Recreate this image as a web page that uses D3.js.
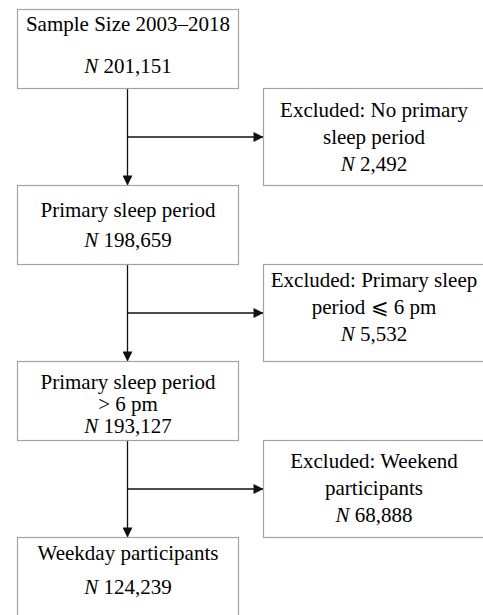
<!DOCTYPE html>
<html>
<head>
<meta charset="utf-8">
<script src="https://cdn.jsdelivr.net/npm/d3@7"></script>
<style>
  html, body { margin: 0; padding: 0; background: #fff; overflow: hidden; }
  svg { display: block; }
</style>
</head>
<body>
<svg id="flow"></svg>
<script>
// main path boxes (left column)
const stepLabels = [
  ["Sample Size 2003–2018"],
  ["Primary sleep period"],
  ["Primary sleep period", "> 6 pm"],
  ["Weekday participants"]
]
const stepCounts = [201151, 198659, 193127, 124239]

// exclusion boxes (right column)
const excludedLabels = [
  ["Excluded: No primary", "sleep period"],
  ["Excluded: Primary sleep", "period ⩽ 6 pm"],
  ["Excluded: Weekend", "participants"]
]
const excludedCounts = [2492, 5532, 68888]

const W = 483, H = 615
const fmt = d3.format(",")

// layout
const rowStep = 176
const left = { x0: 17.5, x1: 238.5, top: 9.5, h: 79 }
const right = { x0: 263.5, x1: 484.5, top: 88.5, h: 97 }
const spineX = 127.5
// line spacing + vertical nudge of the text block in each box
const stepGaps = [42, 30, 22, 34]
const stepShift = [-4, 0, 3, -7]
const exclGap = 27
const exclShift = [0, -6, -1]

const y = d3.scaleLinear().domain([0, 1]).range([0, rowStep])

const svg = d3.select('#flow')
  .attr('width', W)
  .attr('height', H)

svg.append('defs').append('marker')
    .attr('id', 'head')
    .attr('viewBox', '0 0 10 10')
    .attr('refX', 10)
    .attr('refY', 5)
    .attr('markerUnits', 'userSpaceOnUse')
    .attr('markerWidth', 11)
    .attr('markerHeight', 10)
    .attr('orient', 'auto')
  .append('path')
    .attr('d', 'M0,0L10,5L0,10Z')
    .attr('fill', '#111')

function drawBox(x0, x1, top, h, lines, gap, shift) {
  svg.append('rect')
    .attr('x', x0)
    .attr('y', top)
    .attr('width', x1 - x0)
    .attr('height', h)
    .attr('fill', '#fff')
    .attr('stroke', '#a3a3a3')
    .attr('stroke-width', 1.2)

  const cx = (x0 + x1) / 2
  const cy = top + h / 2 + shift
  const n = lines.length

  lines.forEach((ln, i) => {
    const base = cy + (i - (n - 1) / 2) * gap + 7
    const t = svg.append('text')
      .attr('font-family', 'Liberation Serif')
      .attr('font-size', 21)
      .attr('text-anchor', 'middle')
      .attr('x', cx)
      .attr('y', base)
    if (ln.n !== undefined) {
      t.append('tspan').attr('font-style', 'italic').text('N')
      t.append('tspan').text(' ' + fmt(ln.n))
    } else {
      t.text(ln)
    }
  })
}

// spine arrows between main boxes, with branches to the exclusions
d3.range(stepCounts.length - 1).forEach(i => {
  const yFrom = left.top + y(i) + left.h
  const yTo = left.top + y(i + 1)
  svg.append('line')
    .attr('x1', spineX).attr('y1', yFrom)
    .attr('x2', spineX).attr('y2', yTo)
    .attr('stroke', '#111')
    .attr('stroke-width', 1.3)
    .attr('marker-end', 'url(#head)')

  const yMid = (yFrom + yTo) / 2
  svg.append('line')
    .attr('x1', spineX).attr('y1', yMid)
    .attr('x2', right.x0).attr('y2', yMid)
    .attr('stroke', '#111')
    .attr('stroke-width', 1.3)
    .attr('marker-end', 'url(#head)')
})

stepLabels.forEach((lbl, i) => {
  drawBox(left.x0, left.x1, left.top + y(i), left.h,
    [...lbl, { n: stepCounts[i] }], stepGaps[i], stepShift[i])
})

excludedLabels.forEach((lbl, i) => {
  drawBox(right.x0, right.x1, right.top + y(i), right.h,
    [...lbl, { n: excludedCounts[i] }], exclGap, exclShift[i])
})
</script>
</body>
</html>
